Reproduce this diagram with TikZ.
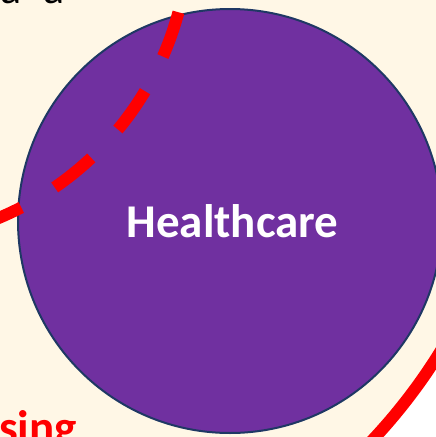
\documentclass[tikz,border=0pt]{standalone}
\usepackage{fontspec}
\setmainfont{Carlito}
\definecolor{cream}{HTML}{FFF7E6}
\definecolor{grape}{HTML}{7030A0}
\definecolor{rimblue}{HTML}{1F3864}
\begin{document}
\begin{tikzpicture}[x=1pt,y=-1pt]
\useasboundingbox (0,0) rectangle (436,437);
\clip (0,0) rectangle (436,437);
\fill[white] (0,0) rectangle (436,437);

% outer circles of the diagram
\fill[cream] (-36,57) circle (560);
\draw[red, line width=12pt] (-36,57) circle (560);

% healthcare circle
\filldraw[fill=grape, draw=rimblue, line width=2pt] (230,221) circle (212);

% dashed circle
\draw[red, line width=12pt, dash pattern=on 47pt off 39pt] (-121,-68) ++(15:310) arc (15:80:310);

\node[anchor=base, text=white, font=\bfseries\fontsize{47}{50}\selectfont] (care) at (232.5,237) {Healthcare};
\node[anchor=base west, inner sep=0pt, text=red, font=\bfseries\fontsize{47}{50}\selectfont] (sing) at (-1,443) {sing};
\node[anchor=base west, inner sep=0pt, text=black, font=\fontsize{44}{46}\selectfont] (topa) at (0,3) {a\hskip 22pt a};
\end{tikzpicture}
\end{document}
